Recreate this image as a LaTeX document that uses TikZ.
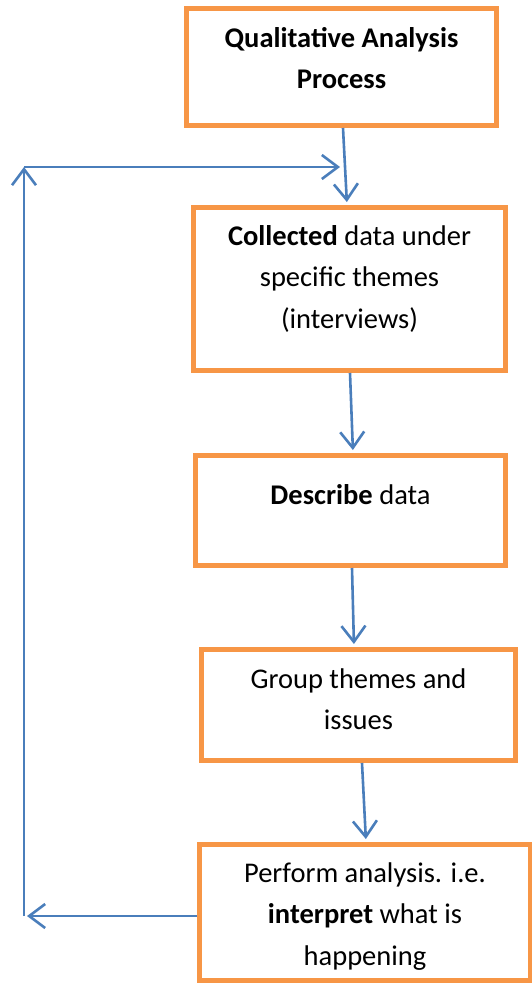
\documentclass[tikz,border=0pt]{standalone}
\usepackage{fontspec}
\setmainfont{Carlito}
\usepackage{tikz}
\usetikzlibrary{arrows.meta}

\definecolor{boxorange}{HTML}{F79646}
\definecolor{flowblue}{HTML}{4A7EBB}

% text of a box: height, width, first baseline, lines
\newcommand{\boxlines}[4]{\parbox[c][#1][t]{#2}{\centering\rule{0pt}{#3}#4}}

\begin{document}
\begin{tikzpicture}[x=1pt,y=-1pt,
    stepbox/.style={draw=boxorange,line width=5pt,inner sep=0pt,fill=white,
        font=\fontsize{28.5}{41.5}\selectfont},
    flow/.style={draw=flowblue,line width=2.6pt,
        -{Straight Barb[length=16pt,width=24pt,line width=2.6pt]}}]

\useasboundingbox (0,0) rectangle (531,985);

\node[stepbox] (b1) at (341.5,67) {\boxlines{117pt}{310pt}{38.5pt}{\textbf{Qualitative Analysis}\\\textbf{Process}}};
\node[stepbox] (b2) at (349.5,289) {\boxlines{163pt}{312pt}{37.5pt}{\textbf{Collected} data under\\specific themes\\(interviews)}};
\node[stepbox] (b3) at (350.5,510.5) {\boxlines{110pt}{310pt}{48.5pt}{\textbf{Describe} data}};
\node[stepbox] (b4) at (358.5,705) {\boxlines{111pt}{314pt}{38.5pt}{Group themes and\\issues}};
\node[stepbox] (b5) at (365,912.5) {\boxlines{136pt}{331pt}{37.5pt}{Perform analysis. i.e.\\\textbf{interpret} what is\\happening}};

\foreach \a/\b/\s/\t in {b1/b2/1.5/-2.5, b2/b3/0.5/2.5, b3/b4/1.5/-4.5, b4/b5/3.5/1}
    \draw[flow,shorten >=3pt] ([xshift=\s pt]\a.south) -- ([xshift=\t pt]\b.north);

% loop back to the start
\coordinate (loopbottom) at (24,916);
\coordinate (looptop) at (24,167);
\coordinate (loopend) at (340,167);

\draw[flow] (b5.west |- loopbottom) -- ([xshift=3pt]loopbottom);
\draw[flow] (loopbottom) -- (looptop);
\draw[flow] (looptop) -- (loopend);

\end{tikzpicture}
\end{document}
